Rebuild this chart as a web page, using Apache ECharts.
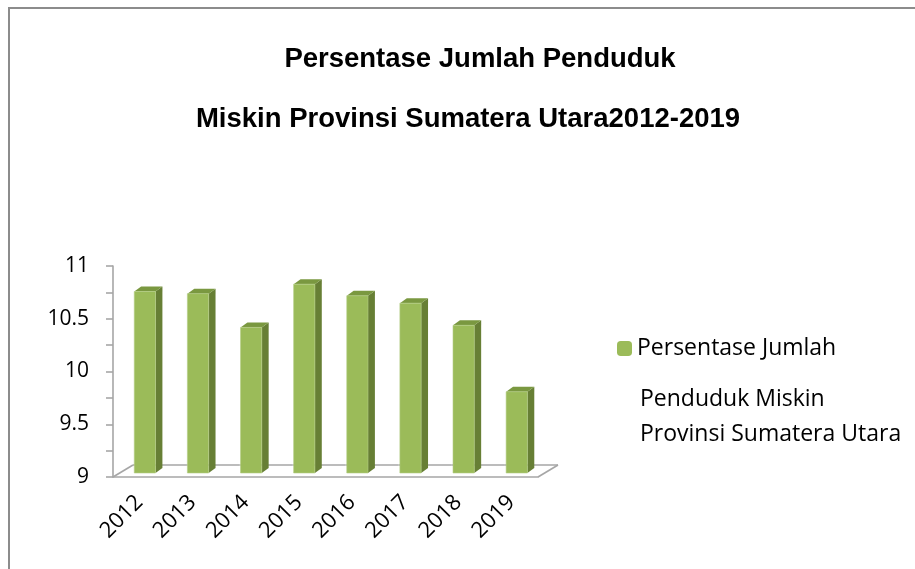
<!DOCTYPE html>
<html>
<head>
<meta charset="utf-8">
<script src="https://cdn.jsdelivr.net/npm/echarts@6/dist/echarts.min.js"></script>
<style>
  html, body { margin: 0; padding: 0; background: #fff; }
  #chart { width: 915px; height: 569px; }
</style>
</head>
<body>
<div id="chart"></div>
<script>
const years = ['2012', '2013', '2014', '2015', '2016', '2017', '2018', '2019'];
const persentase = [10.72, 10.70, 10.38, 10.79, 10.68, 10.61, 10.40, 9.77];
const yTicks = [9, 9.5, 10, 10.5, 11];
const seriesName = 'Persentase Jumlah';

const chart = echarts.init(document.getElementById('chart'));

// 3D-looking column: front face, side face, top cap
function renderBar(params, api) {
  const idx = api.value(0);
  const val = api.value(1);
  const top = api.coord([idx, val]);
  const base = api.coord([idx, yTicks[0]]);
  const catW = api.size([1, 0])[0];
  const w = catW * 0.4;
  const x0 = top[0] + catW * 0.1 - w / 2;
  const x1 = x0 + w;
  const y0 = top[1] - 4;
  const y1 = base[1] - 4;
  const dx = catW * 0.13;
  const dy = -5;
  return {
    type: 'group',
    children: [
      {
        type: 'polygon',
        shape: { points: [[x1, y0], [x1 + dx, y0 + dy], [x1 + dx, y1 + dy], [x1, y1]] },
        style: { fill: '#677f35' }
      },
      {
        type: 'polygon',
        shape: { points: [[x0, y0], [x0 + dx, y0 + dy], [x1 + dx, y0 + dy], [x1, y0]] },
        style: { fill: '#7a9840' }
      },
      {
        type: 'rect',
        shape: { x: x0, y: y0, width: w, height: y1 - y0 },
        style: { fill: '#9bbb59', stroke: '#b5cf86', lineWidth: 0.6 }
      }
    ]
  };
}

// floor of the 3D plot area, one segment per category
function renderFloor(params, api) {
  const idx = api.value(0);
  const c = api.coord([idx, yTicks[0]]);
  const catW = api.size([1, 0])[0];
  const xl = c[0] - catW / 2;
  const xr = c[0] + catW / 2;
  const fy = c[1];
  const ddx = 20;
  const ddy = -12;
  const lineStyle = { stroke: '#a6a6a6', lineWidth: 1.6 };
  const children = [
    { type: 'line', shape: { x1: xl + ddx, y1: fy + ddy, x2: xr + ddx, y2: fy + ddy }, style: lineStyle }
  ];
  if (idx === 0) {
    children.push({ type: 'line', shape: { x1: xl, y1: fy, x2: xl + ddx, y2: fy + ddy }, style: lineStyle });
  }
  if (idx === years.length - 1) {
    children.push({ type: 'line', shape: { x1: xr, y1: fy, x2: xr + ddx, y2: fy + ddy }, style: lineStyle });
  }
  return { type: 'group', children };
}

const labelFont = 'Open Sans';

const option = {
  backgroundColor: '#fff',
  title: [
    {
      text: 'Persentase Jumlah Penduduk',
      left: 475,
      top: 40,
      textAlign: 'center',
      textStyle: { fontFamily: 'Liberation Sans', fontWeight: 'bold', fontSize: 27.5, color: '#000' }
    },
    {
      text: 'Miskin Provinsi Sumatera Utara2012-2019',
      left: 463,
      top: 100,
      textAlign: 'center',
      textStyle: { fontFamily: 'Liberation Sans', fontWeight: 'bold', fontSize: 27.5, color: '#000' }
    }
  ],
  legend: {
    data: [seriesName],
    left: 612,
    top: 332,
    itemWidth: 15,
    itemHeight: 15,
    itemGap: 8,
    textStyle: { fontFamily: labelFont, fontSize: 23, color: '#000' }
  },
  graphic: [
    {
      type: 'rect',
      shape: { x: 9, y: 8, width: 920, height: 580 },
      style: { fill: 'none', stroke: '#8c8c8c', lineWidth: 2 },
      silent: true
    },
    {
      type: 'text',
      left: 640,
      top: 382,
      style: {
        text: 'Penduduk Miskin\nProvinsi Sumatera Utara',
        font: '23px "Open Sans"',
        lineHeight: 35,
        fill: '#000'
      }
    }
  ],
  grid: { left: 113, right: 377, top: 266, bottom: 92 },
  xAxis: {
    type: 'category',
    data: years,
    axisLine: { lineStyle: { color: '#a6a6a6', width: 1.6 } },
    axisTick: { length: 7, lineStyle: { color: '#a6a6a6', width: 1.6 } },
    axisLabel: {
      rotate: 45,
      margin: 22,
      fontFamily: labelFont,
      fontSize: 22,
      color: '#000'
    }
  },
  yAxis: {
    type: 'value',
    min: 9,
    max: 11,
    interval: 0.5,
    axisLine: { show: true, lineStyle: { color: '#a6a6a6', width: 1.6 } },
    axisTick: { show: true, length: 7, lineStyle: { color: '#a6a6a6', width: 1.6 } },
    minorTick: { show: true, splitNumber: 2, length: 7, lineStyle: { color: '#a6a6a6', width: 1.6 } },
    splitLine: { show: false },
    axisLabel: {
      margin: 24,
      fontFamily: labelFont,
      fontSize: 21,
      color: '#000',
      padding: [0, 0, 8, 0]
    }
  },
  series: [
    {
      type: 'custom',
      name: 'floor',
      renderItem: renderFloor,
      data: years.map((y, i) => [i]),
      encode: { x: 0 },
      z: 1,
      silent: true
    },
    {
      type: 'custom',
      name: seriesName,
      renderItem: renderBar,
      data: persentase.map((v, i) => [i, v]),
      encode: { x: 0, y: 1 },
      itemStyle: { color: '#9bbb59' },
      z: 2
    }
  ]
};

chart.setOption(option);
</script>
</body>
</html>
